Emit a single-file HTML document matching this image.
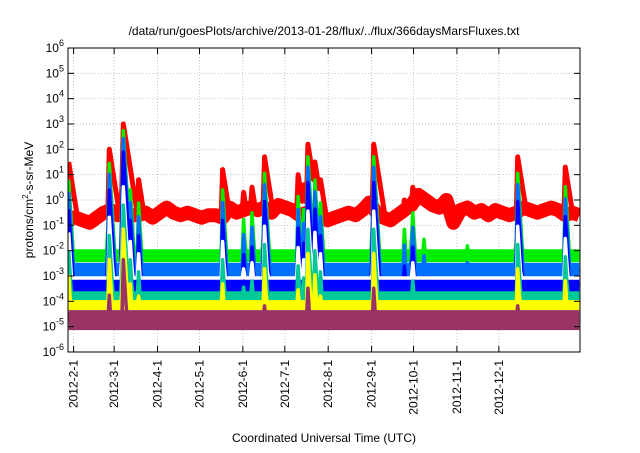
<!DOCTYPE html>
<html><head><meta charset="utf-8"><style>
body{margin:0;background:#fff;width:640px;height:448px;overflow:hidden}
svg text{font-family:"Liberation Sans",sans-serif;fill:#000}
</style></head><body>
<svg id="chart" width="640" height="448" viewBox="0 0 640 448" xmlns="http://www.w3.org/2000/svg">
<text x="324" y="35" font-size="12" text-anchor="middle">/data/run/goesPlots/archive/2013-01-28/flux/../flux/366daysMarsFluxes.txt</text>
<text x="324" y="442" font-size="12" text-anchor="middle">Coordinated Universal Time (UTC)</text>
<text transform="translate(33,200) rotate(-90)" font-size="12" text-anchor="middle">protons/cm<tspan dy="-5" font-size="8">2</tspan><tspan dy="5">-s-sr-MeV</tspan></text>
<defs><clipPath id="pc"><rect x="68" y="48" width="512" height="304"/></clipPath></defs>
<g id="grid"></g><g id="series" clip-path="url(#pc)"></g><g id="axes"></g>
</svg>
<script>
const yTickExps=[-6,-5,-4,-3,-2,-1,0,1,2,3,4,5,6];
const monthLabels=["2012-2-1","2012-3-1","2012-4-1","2012-5-1","2012-6-1","2012-7-1","2012-8-1","2012-9-1","2012-10-1","2012-11-1","2012-12-1"];
const monthDays=[4,33,64,94,125,155,186,217,247,278,308];
const redBase=[-0.7,-0.7,-0.8,-0.9,-0.7,-0.5,
-0.4,-0.6,-0.5,-0.6,-0.6,-0.5,-0.7,
-0.5,-0.3,-0.5,-0.6,-0.5,-0.6,-0.7,-0.6,
-0.6,-0.7,-0.3,-0.5,-0.4,-0.3,-0.4,-0.3,
-0.5,-0.2,-0.3,-0.4,-0.6,-0.5,-0.7,-0.6,
-0.8,-0.7,-0.6,-0.5,-0.6,-0.4,-0.1,
-0.5,-0.7,-0.8,-0.6,-0.4,-0.2,0.2,0.0,-0.2,
-0.3,0.0,-0.9,-0.4,-0.3,-0.5,-0.4,-0.6,
-0.4,-0.5,-0.6,-0.5,-0.3,-0.4,-0.5,-0.4,-0.3,-0.4,-0.6,-0.5,-0.6];
const eventDays=[0,29,39,44,50,110,125,131,140,164,168,171,176,180,218,240,245,246,254,285,321,355];
const eventPeaks=[1.5,2.0,3.0,1.2,0.8,1.2,0.3,0.5,1.7,1.0,0.6,2.2,1.5,0.8,2.2,0.0,-0.3,0.5,-0.3,-0.5,1.7,1.3];
const seriesNames=["red","green","lightblue","blue","white","teal","yellow","purple"];
const seriesBase=[null,-2.2,-2.76,-3.36,-3.08,-3.8,-4.15,-4.74];
const seriesThresh=[0,-0.8,-0.7,-0.5,0,0,0.5,1.3];
const seriesGain=[1,1.3,1.4,1.5,1.2,1.2,1.2,1.4];
const colors=["#ff0000","#00ee00","#0070ff","#0000ff","#ffffff","#00c896","#ffff00","#993366"];
const bandWidths=[14,13,14,14,3,10,10,20];
const L=68,R=580,T=48,B=352,NDAYS=366;
const xS=d=>L+(d+0.5)*(R-L)/NDAYS;
const yS=e=>T+(6-e)*(B-T)/12;
const ns="http://www.w3.org/2000/svg";
function mk(tag,attrs,parent){const e=document.createElementNS(ns,tag);for(const k in attrs)e.setAttribute(k,attrs[k]);parent.appendChild(e);return e;}
const grid=document.getElementById('grid'),axes=document.getElementById('axes'),ser=document.getElementById('series');
yTickExps.forEach(e=>{const y=yS(e);
 if(e>-6&&e<6){const g=mk('line',{x1:L,x2:R,y1:y,y2:y,stroke:'#aaa','stroke-width':0.7,'stroke-dasharray':'1,2'},grid);}
 const t=mk('line',{x1:L,x2:L+6,y1:y,y2:y,stroke:'#000'},axes);
 const t2=mk('line',{x1:R-6,x2:R,y1:y,y2:y,stroke:'#000'},axes);
 const tx=mk('text',{x:L-4,y:y+4,'font-size':12,'text-anchor':'end'},axes);
 tx.textContent='10';const sp=mk('tspan',{dy:-6,'font-size':9},tx);sp.textContent=String(e);
});
monthDays.forEach((d,i)=>{const x=L+d*(R-L)/NDAYS;
 const g=mk('line',{x1:x,x2:x,y1:T,y2:B,stroke:'#aaa','stroke-width':0.7,'stroke-dasharray':'1,2'},grid);
 const t=mk('line',{x1:x,x2:x,y1:B-6,y2:B,stroke:'#000'},axes);
 const t2=mk('line',{x1:x,x2:x,y1:T,y2:T+6,stroke:'#000'},axes);
 const tx=mk('text',{transform:`translate(${x+4},360) rotate(-90)`,'font-size':12,'text-anchor':'end'},axes);tx.textContent=monthLabels[i];
});
const frame=mk('rect',{x:L,y:T,width:R-L,height:B-T,fill:'none',stroke:'#000','stroke-width':1},axes);

function baseAt(s,d){
 if(s===0){const i=Math.min(redBase.length-2,Math.floor(d/5));const f=(d-i*5)/5;return redBase[i]*(1-f)+redBase[i+1]*f;}
 return seriesBase[s];
}
function value(s,d){
 const base=baseAt(s,d);let v=base;
 eventDays.forEach((ed,k)=>{
  let p;
  if(s===0)p=eventPeaks[k];
  else{const r=eventPeaks[k]-seriesThresh[s];if(r<=0)return;p=base+seriesGain[s]*r;}
  const dd=d-ed;const c=dd<0?p+dd*2.5:p-dd*(s===0?0.35:0.9);if(c>v)v=c;});
 return Math.max(-6,Math.min(6,v));
}
seriesNames.forEach((nm,s)=>{
 const g=mk('g',{},ser);
 
 
 let bp=[],sp=[];
 for(let d=0;d<NDAYS;d++){bp.push(xS(d).toFixed(1)+','+yS(baseAt(s,d)).toFixed(1));sp.push(xS(d).toFixed(1)+','+yS(value(s,d)).toFixed(1));}
 const b=mk('polyline',{points:bp.join(' '),fill:'none',stroke:colors[s],'stroke-width':bandWidths[s],'stroke-linejoin':'round'},g);
 
 
 const p=mk('polyline',{points:sp.join(' '),fill:'none',stroke:colors[s],'stroke-width':s===0?5:3.5,'stroke-linejoin':'round'},g);
 
 
});
</script>
</body></html>
